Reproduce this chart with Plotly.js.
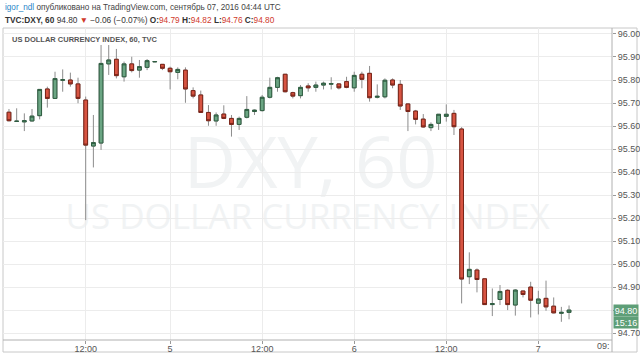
<!DOCTYPE html>
<html>
<head>
<meta charset="utf-8">
<script src="https://cdn.plot.ly/plotly-3.0.1.min.js"></script>
<style>
html,body{margin:0;padding:0;background:#fff;}
#chart{width:640px;height:355px;}
</style>
</head>
<body>
<div id="chart"></div>
<script>
// Hourly bars, TVC:DXY 60 (Sept 2 – Sept 7, 2016)
const openP = [95.66,95.62,95.618,95.622,95.645,95.761,95.72,95.799,95.80,95.783,
  95.713,95.513,95.526,95.870,95.890,95.814,95.870,95.843,95.855,95.879,
  95.868,95.851,95.833,95.843,95.754,95.735,95.659,95.622,95.652,95.633,
  95.607,95.638,95.663,95.667,95.725,95.768,95.825,95.745,95.732,95.774,
  95.768,95.778,95.782,95.783,95.793,95.766,95.825,95.829,95.725,95.727,
  95.80,95.781,95.696,95.665,95.630,95.593,95.612,95.642,95.655,95.587,
  94.945,94.974,94.936,94.824,94.846,94.886,94.822,94.883,94.900,94.830,
  94.851,94.817,94.786,94.79];
const highP = [95.674,95.677,95.655,95.674,95.76,95.771,95.836,95.846,95.832,95.810,
  95.728,95.648,95.952,95.952,95.935,95.880,95.901,95.887,95.891,95.882,
  95.869,95.858,95.855,95.855,95.768,95.754,95.691,95.659,95.690,95.648,
  95.641,95.730,95.672,95.735,95.810,95.814,95.826,95.749,95.778,95.786,
  95.793,95.793,95.812,95.786,95.814,95.836,95.836,95.861,95.781,95.807,
  95.807,95.80,95.697,95.670,95.652,95.616,95.652,95.694,95.670,95.595,
  95.051,94.981,94.936,94.894,94.909,94.891,94.891,94.883,94.923,94.884,
  94.928,94.855,94.814,94.82];
const lowP = [95.62,95.62,95.578,95.62,95.629,95.680,95.718,95.749,95.771,95.699,
  95.191,95.420,95.496,95.822,95.807,95.793,95.833,95.810,95.843,95.878,
  95.843,95.759,95.803,95.701,95.720,95.659,95.601,95.601,95.630,95.554,
  95.583,95.633,95.648,95.663,95.720,95.749,95.746,95.720,95.720,95.749,
  95.749,95.759,95.759,95.759,95.764,95.749,95.764,95.706,95.720,95.720,
  95.764,95.670,95.578,95.607,95.593,95.578,95.583,95.619,95.561,94.829,
  94.913,94.877,94.822,94.774,94.822,94.800,94.776,94.855,94.768,94.781,
  94.797,94.786,94.749,94.76];
const closeP = [95.623,95.621,95.623,95.643,95.759,95.720,95.806,95.801,95.783,95.720,
  95.517,95.528,95.872,95.887,95.819,95.870,95.841,95.858,95.884,95.880,
  95.851,95.836,95.846,95.761,95.730,95.659,95.623,95.648,95.633,95.607,
  95.633,95.672,95.669,95.725,95.768,95.810,95.749,95.730,95.768,95.766,
  95.778,95.786,95.784,95.766,95.768,95.820,95.803,95.723,95.729,95.799,
  95.778,95.687,95.663,95.629,95.596,95.607,95.651,95.651,95.597,94.935,
  94.977,94.933,94.824,94.828,94.881,94.824,94.887,94.868,94.843,94.848,
  94.814,94.788,94.79,94.80];
const tickIdx = [10,21,33,45,57,69];
const tickText = ['12:00','5','12:00','6','12:00','7'];
const yTicks = [94.7,94.8,94.9,95.0,95.1,95.2,95.3,95.4,95.5,95.6,95.7,95.8,95.9,96.0];
const lastPrice = 94.80;
const countdown = '15:16';

const xIdx = openP.map((_, i) => i);
const bodyHigh = openP.map((o, i) => Math.max(o, closeP[i]));
const bodyLow = openP.map((o, i) => Math.min(o, closeP[i]));

const UP = '#6ba583', DOWN = '#d75442', WICK = '#8c8c8c';

const wickTrace = {
  type: 'candlestick', x: xIdx, open: openP, high: highP, low: lowP, close: closeP,
  increasing: {fillcolor: UP, line: {color: WICK, width: 1}},
  decreasing: {fillcolor: DOWN, line: {color: WICK, width: 1}},
  whiskerwidth: 0, hoverinfo: 'skip', showlegend: false
};
const bodyTrace = {
  type: 'candlestick', x: xIdx, open: openP, high: bodyHigh, low: bodyLow, close: closeP,
  increasing: {fillcolor: UP, line: {color: '#2e5d40', width: 1}},
  decreasing: {fillcolor: DOWN, line: {color: '#7a2418', width: 1}},
  whiskerwidth: 0, hoverinfo: 'skip', showlegend: false
};

const PL = 3, PR = 612, PT = 28, PB = 340, W = 640, H = 355;
const pxX = px => (px - PL) / (PR - PL);
const pxY = py => (PB - py) / (PB - PT);

const SANS = 'Liberation Sans, Arial, sans-serif';
const red = '#d0392b';
const annotations = [
  {xref: 'paper', yref: 'paper', x: pxX(3), y: pxY(7), xanchor: 'left', yanchor: 'middle', showarrow: false,
   text: "<span style='color:#2a86c8'>igor_ndl</span> опубликовано на TradingView.com, сентябрь 07, 2016 04:44 UTC",
   font: {family: SANS, size: 8.2, color: '#444'}},
  {xref: 'paper', yref: 'paper', x: pxX(3), y: pxY(20), xanchor: 'left', yanchor: 'middle', showarrow: false,
   text: "<b>TVC:DXY, 60</b> 94.80 <span style='color:" + red + "'>▼</span> −0.06 (−0.07%) <b>O:</b><span style='color:" + red + "'>94.79</span> <b>H:</b><span style='color:" + red + "'>94.82</span> <b>L:</b><span style='color:" + red + "'>94.76</span> <b>C:</b><span style='color:" + red + "'>94.80</span>",
   font: {family: SANS, size: 8.3, color: '#333'}},
  {xref: 'paper', yref: 'paper', x: pxX(10), y: pxY(39), xanchor: 'left', yanchor: 'middle', showarrow: false,
   text: '<b>US DOLLAR CURRENCY INDEX, 60, TVC</b>',
   font: {family: SANS, size: 7.5, color: '#555'}},
  {xref: 'paper', yref: 'y', x: 1, y: lastPrice, xanchor: 'left', yanchor: 'middle', showarrow: false,
   text: lastPrice.toFixed(2), bgcolor: '#5e9e77', width: 24, height: 11, borderpad: 0, xshift: 1,
   font: {family: SANS, size: 9, color: '#fff'}},
  {xref: 'paper', yref: 'y', x: 1, y: lastPrice, xanchor: 'left', yanchor: 'middle', showarrow: false,
   text: countdown, bgcolor: '#5e9e77', width: 24, height: 11, borderpad: 0, xshift: 1, yshift: -12,
   font: {family: SANS, size: 9, color: '#fff'}},
  {xref: 'paper', yref: 'paper', x: pxX(612), y: pxY(346), xanchor: 'right', yanchor: 'middle', showarrow: false,
   text: '09:', font: {family: SANS, size: 9, color: '#555'}}
];

const shapes = [
  {type: 'rect', xref: 'paper', yref: 'paper', x0: pxX(3), x1: pxX(637), y0: pxY(352), y1: pxY(28),
   line: {color: '#c8c8c8', width: 1}, layer: 'below'},
  {type: 'line', xref: 'paper', yref: 'paper', x0: 1, x1: 1, y0: pxY(352), y1: 1,
   line: {color: '#b0b0b0', width: 1}},
  {type: 'line', xref: 'paper', yref: 'paper', x0: pxX(3), x1: 1, y0: 0, y1: 0,
   line: {color: '#b0b0b0', width: 1}},
  {type: 'rect', xref: 'paper', yref: 'paper', x0: 0.25, x1: 0.76, y0: pxY(200), y1: pxY(130),
   line: {width: 0}, fillcolor: 'rgba(0,0,0,0)', layer: 'below',
   label: {text: 'DXY, 60', textposition: 'middle center',
     font: {family: 'Open Sans, sans-serif', size: 72, color: '#f1f3f4'}}},
  {type: 'rect', xref: 'paper', yref: 'paper', x0: 0.05, x1: 0.95, y0: pxY(234), y1: pxY(200),
   line: {width: 0}, fillcolor: 'rgba(0,0,0,0)', layer: 'below',
   label: {text: 'US DOLLAR CURRENCY INDEX', textposition: 'middle center',
     font: {family: 'Open Sans, sans-serif', size: 35, color: '#f1f3f4'}}}
];

const layout = {
  width: W, height: H,
  margin: {l: PL, r: W - PR, t: PT, b: H - PB, pad: 0},
  paper_bgcolor: '#ffffff', plot_bgcolor: '#ffffff',
  showlegend: false,
  xaxis: {
    range: [-0.78, 78.6], rangeslider: {visible: false},
    tickmode: 'array', tickvals: tickIdx, ticktext: tickText,
    showgrid: true, gridcolor: '#ececec', gridwidth: 1,
    ticks: 'outside', ticklen: 3, tickcolor: '#999', ticklabelstandoff: -3,
    tickfont: {family: SANS, size: 9, color: '#555'},
    showline: false, zeroline: false, fixedrange: true
  },
  yaxis: {
    side: 'right', range: [94.67, 96.026],
    tickmode: 'array', tickvals: yTicks,
    ticktext: yTicks.map(v => Math.abs(v - lastPrice) < 1e-9 ? '' : v.toFixed(2)),
    showgrid: true, gridcolor: '#ececec', gridwidth: 1,
    ticks: 'outside', ticklen: 3, tickcolor: '#999',
    tickfont: {family: SANS, size: 9, color: '#555'},
    showline: false, zeroline: false, fixedrange: true
  },
  annotations: annotations,
  shapes: shapes
};

Plotly.newPlot('chart', [wickTrace, bodyTrace], layout, {displayModeBar: false, staticPlot: true});
</script>
</body>
</html>
